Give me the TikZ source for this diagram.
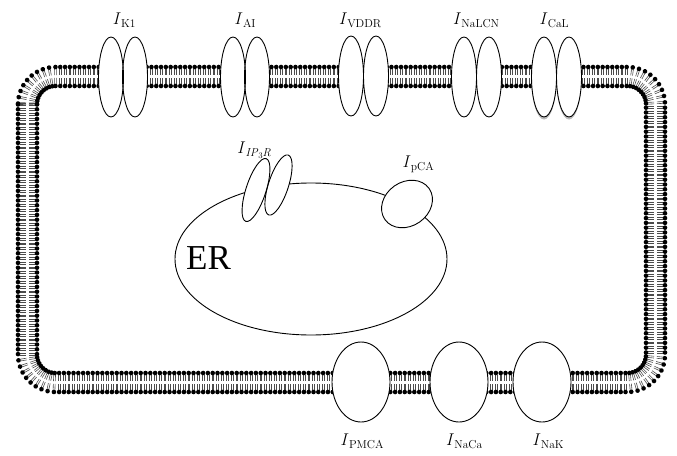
\documentclass[tikz,border=0pt]{standalone}
\usepackage{fontspec}
\newfontfamily\erfont{Liberation Serif}
\usetikzlibrary{shapes.geometric,decorations.markings}

% current symbol: italic I with a lowered subscript
\newcommand\curlab[1]{\textit{I}\kern0.3pt\raisebox{-0.45ex}{\fontsize{11.5}{12}\selectfont #1}}

\tikzset{
  % ion channel outline
  chan/.style={ellipse, draw, line width=0.9pt, inner sep=0pt},
  pairchan/.style={chan, minimum width=25, minimum height=80},
  pump/.style={chan, minimum width=58, minimum height=80},
  lab/.style={inner sep=0pt, font=\fontsize{17}{18}\selectfont},
  tail/.style={line width=0.6pt, black!70},
  % phospholipid bilayer: head groups on both faces, tails pointing inward
  bilayer/.style={decorate, decoration={markings,
      mark=between positions 0 and 1 step 4.8pt with {
        \draw[tail] (-0.9,8) -- (-0.9,1.4);
        \draw[tail] (0.9,8) -- (0.9,1.4);
        \draw[tail] (-0.9,-8) -- (-0.9,-1.4);
        \draw[tail] (0.9,-8) -- (0.9,-1.4);
        \fill (0,9.5) circle (2.3);
        \fill (0,-9.5) circle (2.3);
      }}}
}

\begin{document}
\begin{tikzpicture}[x=1pt,y=-1pt]
\useasboundingbox (0,0) rectangle (677,455);

% cell membrane
\path[bilayer, rounded corners=28] (27.5,76.5) rectangle (655.5,382.5);

% ER membrane
\draw[line width=0.9pt] (311,259) ellipse (136 and 76);

% white bodies of the channels and pumps
\fill[gray!55] (544,79.5) ellipse (12.5 and 40);
\fill[gray!55] (569,79.5) ellipse (12.5 and 40);
\foreach \cx/\cy in {111/77,135/77,233/77,257/77,351/76,376/76,464/77,489/77,544/77,569/77}
  \fill[white] (\cx,\cy) ellipse (12.5 and 40);
\foreach \cx in {361,459,542}
  \fill[white] (\cx,382) ellipse (29 and 40);
\fill[white, rotate around={-18:(256,190)}] (256,190) ellipse (10 and 33);
\fill[white, rotate around={-18:(278.5,185)}] (278.5,185) ellipse (10 and 31.5);
\fill[white, rotate around={35:(407,204)}] (407,204) ellipse (27 and 22);

% sarcolemmal channels
\node[pairchan] (k1a) at (111,77) {};
\node[pairchan] (k1b) at (135,77) {};
\node[pairchan] (aia) at (233,77) {};
\node[pairchan] (aib) at (257,77) {};
\node[pairchan] (vda) at (351,76) {};
\node[pairchan] (vdb) at (376,76) {};
\node[pairchan] (nla) at (464,77) {};
\node[pairchan] (nlb) at (489,77) {};
\node[pairchan] (cla) at (544,77) {};
\node[pairchan] (clb) at (569,77) {};

% pumps and exchanger
\node[pump] (pmca) at (361,382) {};
\node[pump] (naca) at (459,382) {};
\node[pump] (nak) at (542,382) {};

% ER release channel and uptake pump
\node[chan, minimum width=20, minimum height=66, rotate=-18] (ipa) at (256,190) {};
\node[chan, minimum width=20, minimum height=63, rotate=-18] (ipb) at (278.5,185) {};
\node[chan, minimum width=54, minimum height=44, rotate=35] (pca) at (407,204) {};

% labels
\node[lab] (lk1) at (124,20) {\curlab{K1}};
\node[lab] (lai) at (245,20) {\curlab{AI}};
\node[lab] (lvd) at (360,20) {\curlab{VDDR}};
\node[lab] (lnl) at (476,20) {\curlab{NaLCN}};
\node[lab] (lcl) at (554,20) {\curlab{CaL}};
\node[lab] (lip) at (254,150) {\curlab{\textit{IP}\raisebox{-0.35ex}{\fontsize{8.5}{9}\selectfont 3}\textit{R}}};
\node[lab] (lpc) at (418,164) {\curlab{pCA}};
\node[lab] (lpm) at (362,441) {\curlab{PMCA}};
\node[lab] (lnc) at (464,441) {\curlab{NaCa}};
\node[lab] (lnk) at (548,441) {\curlab{NaK}};
\node[inner sep=0pt, font=\erfont\fontsize{35}{40}\selectfont] (er) at (208.5,258) {ER};
\end{tikzpicture}
\end{document}
